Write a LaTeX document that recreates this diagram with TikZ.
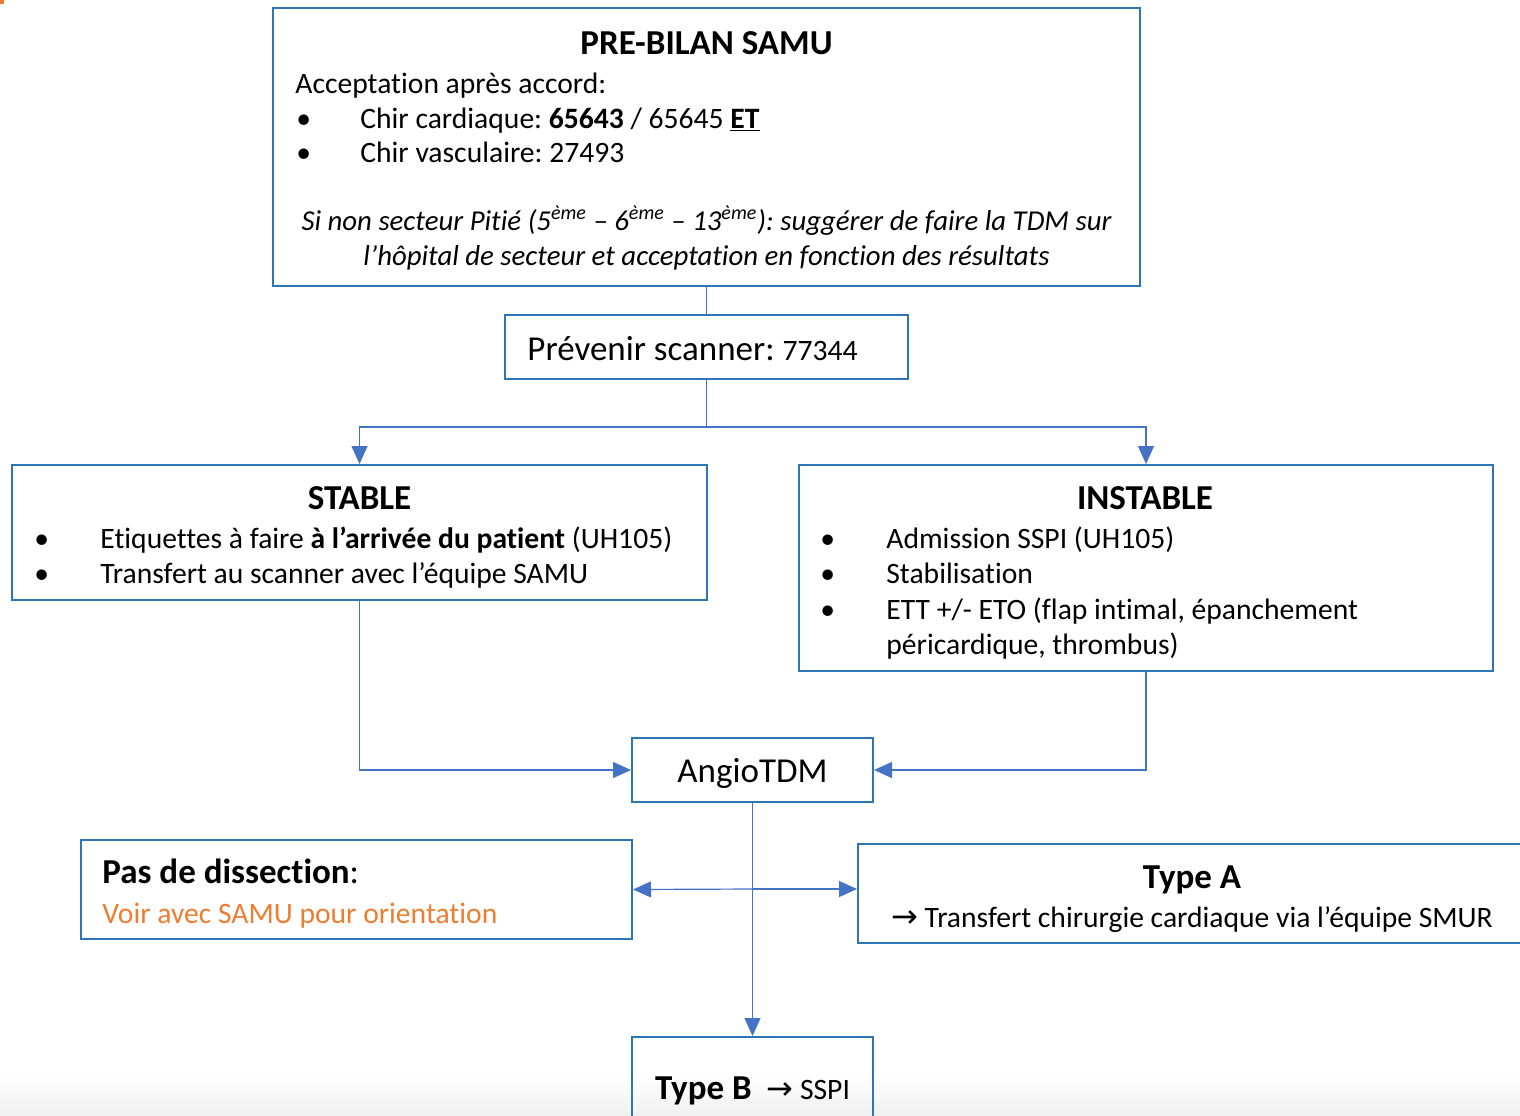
\documentclass[tikz,border=0pt]{standalone}
\usepackage{fontspec}
\setmainfont{Carlito}[Ligatures={TeX,NoCommon}]
\newfontfamily\arrowfont{DejaVu Sans}
\usetikzlibrary{arrows.meta}
\definecolor{boxblue}{HTML}{2E75B6}
\definecolor{linkblue}{HTML}{4472C4}
\definecolor{warnorange}{HTML}{ED7D31}
\frenchspacing
\begin{document}
\begin{tikzpicture}[x=0.5pt, y=-0.5pt,
  box/.style={draw=boxblue, line width=1pt, inner sep=0pt},
  txt/.style={anchor=base west, inner sep=0pt, font=\fontsize{14.8}{17}\selectfont},
  ttl/.style={anchor=base, inner sep=0pt, font=\fontsize{17.5}{20}\selectfont\bfseries},
  link/.style={draw=linkblue, line width=0.6pt},
  tip/.style={link, -{Triangle[length=9pt,width=8pt]}}]
  \clip (0,0) rectangle (1520,1115);
  \shade[top color=white, bottom color=black!6] (0,1075) rectangle (1520,1115);
  \fill[warnorange] (0,0) rectangle (4,4);

  % pre-bilan
  \node[box, minimum width=433.5pt, minimum height=139pt] (pre) at (706.5,147) {};
  \node[ttl] (preT) at (706.5,54) {PRE-BILAN SAMU};
  \node[txt] (acc) at (295,93) {Acceptation après accord:};
  \node[txt] (pb1) at (296,128) {•};
  \node[txt] (chirC) at (360,128) {Chir cardiaque: \textbf{65643} / 65645 \textbf{\underline{ET}}};
  \node[txt] (pb2) at (296,162) {•};
  \node[txt] (chirV) at (360,162) {Chir vasculaire: 27493};
  \node[txt, anchor=base, font=\fontsize{14.4}{17}\selectfont\itshape] (sect1) at (706.5,230)
    {Si non secteur Pitié (5\textsuperscript{ème} – 6\textsuperscript{ème} – 13\textsuperscript{ème}): suggérer de faire la TDM sur};
  \node[txt, anchor=base, font=\fontsize{14.4}{17}\selectfont\itshape] (sect2) at (706.5,265)
    {l’hôpital de secteur et acceptation en fonction des résultats};

  % scanner
  \node[box, minimum width=201.5pt, minimum height=32pt] (scan) at (706.5,347) {};
  \node[txt, font=\fontsize{17.5}{20}\selectfont] (scanT) at (527,360)
    {Prévenir scanner: {\fontsize{14.8}{17}\selectfont 77344}};

  % stable / instable
  \node[box, minimum width=347.5pt, minimum height=67.5pt] (stable) at (359.5,532.5) {};
  \node[ttl] (stableT) at (359.5,509) {STABLE};
  \node[txt] (sb1) at (34,548) {•};
  \node[txt] (sl1) at (100,548) {Etiquettes à faire \textbf{à l’arrivée du patient} (UH105)};
  \node[txt] (sb2) at (34,583) {•};
  \node[txt] (sl2) at (100,583) {Transfert au scanner avec l’équipe SAMU};

  \node[box, minimum width=347pt, minimum height=103pt] (instable) at (1146,568) {};
  \node[ttl] (instableT) at (1145,509) {INSTABLE};
  \node[txt] (ib1) at (820,548) {•};
  \node[txt] (il1) at (886,548) {Admission SSPI (UH105)};
  \node[txt] (ib2) at (820,583) {•};
  \node[txt] (il2) at (886,583) {Stabilisation};
  \node[txt] (ib3) at (820,619) {•};
  \node[txt] (il3) at (886,619) {ETT +/- ETO (flap intimal, épanchement};
  \node[txt] (il4) at (886,654) {péricardique, thrombus)};

  % angio
  \node[box, minimum width=120.5pt, minimum height=32pt] (angio) at (752.5,770) {};
  \node[txt, anchor=base, font=\fontsize{17.5}{20}\selectfont] (angioT) at (752.5,782) {AngioTDM};

  % resultats
  \node[box, minimum width=275.5pt, minimum height=49.5pt] (pasdis) at (356.5,889.5) {};
  \node[txt, font=\fontsize{17.5}{20}\selectfont] (pasT) at (102,883) {\textbf{Pas de dissection}:};
  \node[txt, text=warnorange] (pasL) at (102,923) {Voir avec SAMU pour orientation};

  \node[box, minimum width=336pt, minimum height=49.5pt] (typeA) at (1194,893.5) {};
  \node[ttl] (typeAT) at (1192,888) {Type A};
  \node[txt, anchor=base] (typeAL) at (1192,927)
    {{\arrowfont\fontsize{16}{17}\selectfont →} Transfert chirurgie cardiaque via l’équipe SMUR};

  \node[box, minimum width=120.5pt, minimum height=50pt] (typeB) at (752.5,1087) {};
  \node[txt, anchor=base] (typeBT) at (752.5,1099)
    {{\fontsize{17.5}{20}\selectfont\bfseries Type B}\enspace{\arrowfont\fontsize{16}{17}\selectfont →} SSPI};

  % liens
  \coordinate (split) at (706.5,427);
  \coordinate (fork) at (752.5,889);
  \draw[link] (pre.south) -- (scan.north);
  \draw[link] (scan.south) -- (split);
  \draw[tip] (split) -| (stable.north);
  \draw[tip] (split) -| (instable.north);
  \draw[tip] (stable.south) |- (angio.west);
  \draw[tip] (instable.south) |- (angio.east);
  \draw[tip] (angio.south) -- (typeB.north);
  \draw[tip] (fork) -- (pasdis.east);
  \draw[tip] (fork) -- (fork -| typeA.west);
\end{tikzpicture}
\end{document}
